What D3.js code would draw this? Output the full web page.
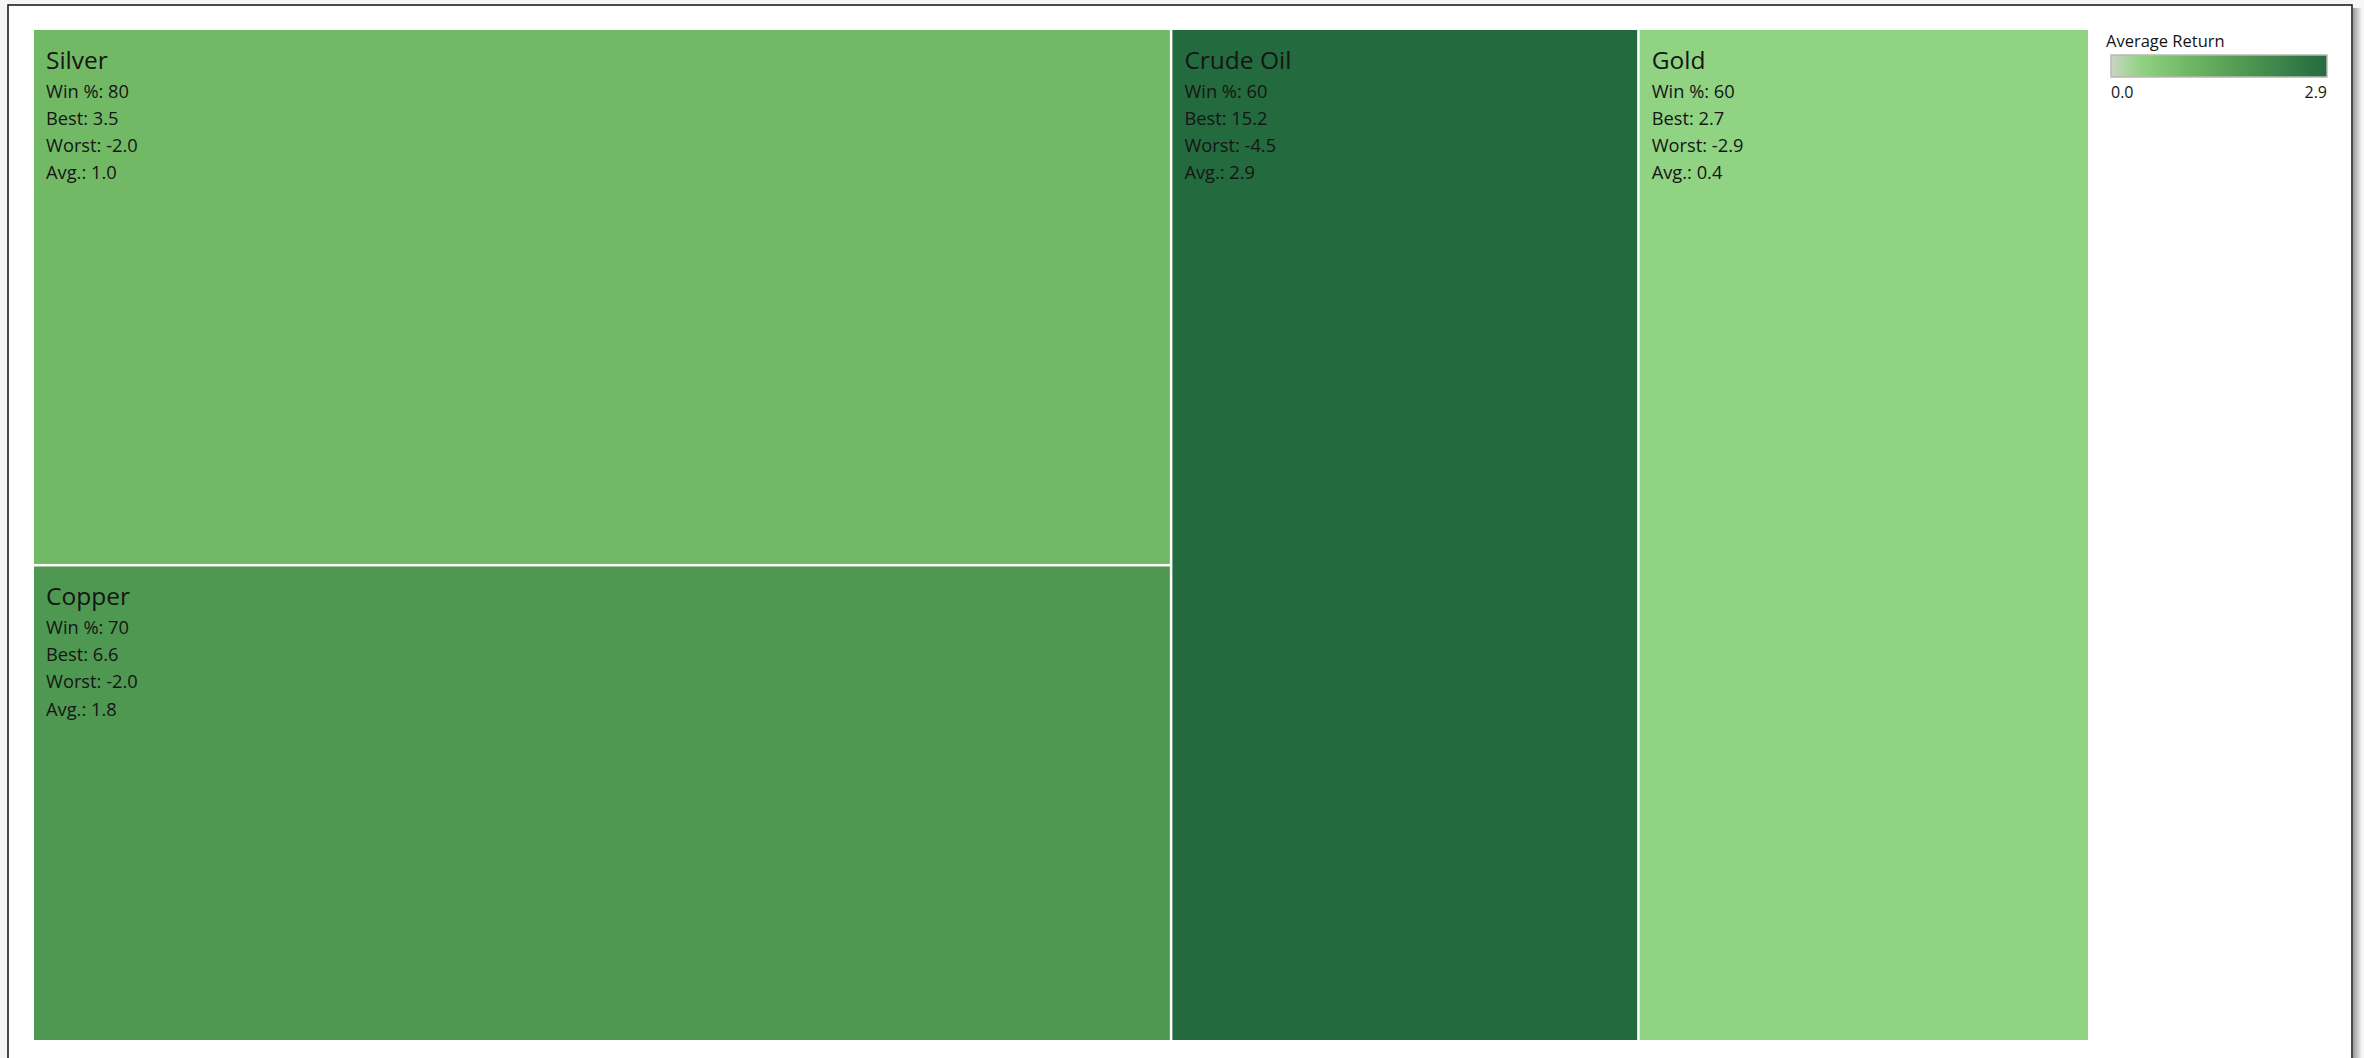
<!DOCTYPE html>
<html>
<head>
<meta charset="utf-8">
<script src="https://cdn.jsdelivr.net/npm/d3@7"></script>
<style>
  html, body { margin: 0; padding: 0; background: #f6f6f6; }
  svg { display: block; }
  text { font-family: "Open Sans", "Noto Sans", sans-serif; fill: #151515; }
</style>
</head>
<body>
<svg id="chart" width="2364" height="1058"></svg>
<script>
// ---- data ----
const commodities = ["Silver", "Copper", "Crude Oil", "Gold"];
const winPct      = [80, 70, 60, 60];
const bestReturn  = [3.5, 6.6, 15.2, 2.7];
const worstReturn = [-2.0, -2.0, -4.5, -2.9];
const avgReturn   = [1.0, 1.8, 2.9, 0.4];
// tile size measure (share of total area)
const sizeShare   = [29.3, 26.0, 22.7, 21.9];
const legendTitle = "Average Return";
const legendTicks = [0.0, 2.9];

// ---- layout ----
const W = 2364, H = 1058;
const svg = d3.select("#chart");

// frame with shadow
const defs = svg.append("defs");
const sh = defs.append("linearGradient").attr("id", "shadowR").attr("x1", 0).attr("x2", 1);
sh.append("stop").attr("offset", 0).attr("stop-color", "#9a9a9a");
sh.append("stop").attr("offset", 1).attr("stop-color", "#f6f6f6");
svg.append("rect").attr("x", 2353).attr("y", 8).attr("width", 9).attr("height", H).attr("fill", "url(#shadowR)");
svg.append("rect").attr("x", 8).attr("y", 5).attr("width", 2344).attr("height", H + 20)
  .attr("fill", "#ffffff").attr("stroke", "#1e1e1e").attr("stroke-width", 1.6);

// treemap
const tmX0 = 34, tmY0 = 30, tmX1 = 2088, tmY1 = 1040;
const rows = commodities.map((name, i) => ({
  name, size: sizeShare[i], win: winPct[i], best: bestReturn[i], worst: worstReturn[i], avg: avgReturn[i]
}));
const root = d3.hierarchy({ children: rows })
  .sum(d => d.size || 0)
  .sort((a, b) => b.value - a.value);
d3.treemap()
  .tile(d3.treemapSquarify)
  .size([tmX1 - tmX0, tmY1 - tmY0])
  .paddingInner(2.5)
  .round(false)(root);

const color = d3.scaleLinear()
  .domain([0, 0.4, 1.0, 1.8, 2.9])
  .range(["#ccd4c4", "#90d383", "#72b966", "#4f9852", "#236a3f"])
  .interpolate(d3.interpolateRgb)
  .clamp(true);

const g = svg.append("g").attr("transform", `translate(${tmX0},${tmY0})`);
const cell = g.selectAll("g.cell").data(root.leaves()).join("g")
  .attr("class", "cell")
  .attr("transform", d => `translate(${d.x0},${d.y0})`);

cell.append("rect")
  .attr("width", d => d.x1 - d.x0)
  .attr("height", d => d.y1 - d.y0)
  .attr("fill", d => color(d.data.avg));

cell.append("text")
  .attr("x", 12).attr("y", 39)
  .attr("font-size", 24.5)
  .text(d => d.data.name);

const fmt1 = d3.format(".1f");
const lines = d => [
  `Win %: ${d.data.win}`,
  `Best: ${fmt1(d.data.best)}`,
  `Worst: ${fmt1(d.data.worst).replace("−", "-")}`,
  `Avg.: ${fmt1(d.data.avg)}`
];
cell.each(function(d) {
  d3.select(this).selectAll("text.line").data(lines(d)).join("text")
    .attr("class", "line")
    .attr("x", 12)
    .attr("y", (t, i) => 67.5 + i * 27.2)
    .attr("font-size", 18.3)
    .text(t => t);
});

// legend
const lg = svg.append("g");
const lgX0 = 2111, lgX1 = 2327, lgY = 55, lgH = 22;
lg.append("text").attr("x", 2106).attr("y", 47).attr("font-size", 16.5).text(legendTitle);
const grad = defs.append("linearGradient").attr("id", "lgGrad").attr("x1", 0).attr("x2", 1);
const lx = d3.scaleLinear().domain(d3.extent(legendTicks)).range([lgX0, lgX1]);
d3.range(0, 1.0001, 0.05).forEach(t => {
  const v = legendTicks[0] + t * (legendTicks[1] - legendTicks[0]);
  grad.append("stop").attr("offset", t).attr("stop-color", color(v));
});
lg.append("rect").attr("x", lgX0).attr("y", lgY).attr("width", lgX1 - lgX0).attr("height", lgH)
  .attr("fill", "url(#lgGrad)").attr("stroke", "#b9b9ad").attr("stroke-width", 1.5);
lg.selectAll("text.tick").data(legendTicks).join("text")
  .attr("class", "tick")
  .attr("x", d => lx(d))
  .attr("y", 98)
  .attr("font-size", 16)
  .attr("text-anchor", (d, i) => i === 0 ? "start" : "end")
  .text(d => fmt1(d));
</script>
</body>
</html>
